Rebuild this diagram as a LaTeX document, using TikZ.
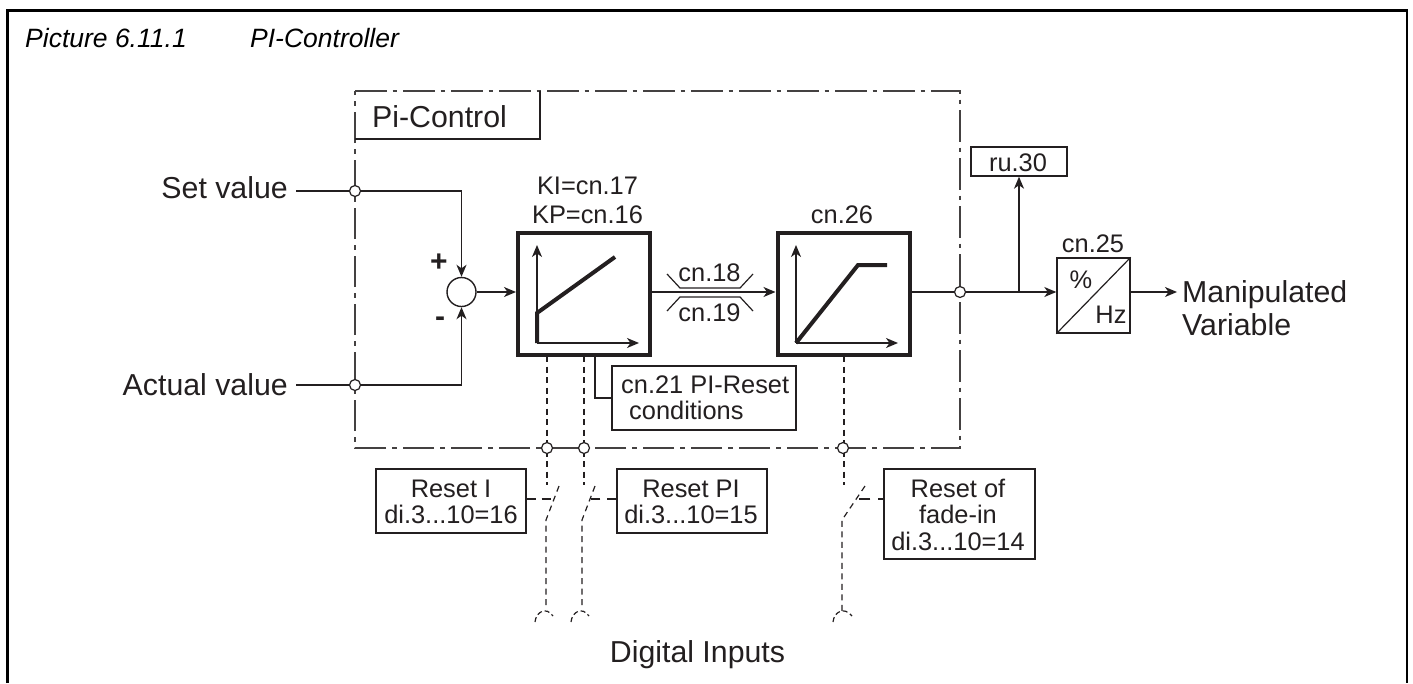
\documentclass[tikz,border=0pt]{standalone}
\usepackage{fontspec}
\setmainfont{Liberation Sans}
\usetikzlibrary{arrows.meta,calc}
\definecolor{ink}{HTML}{231F20}
\newcommand{\fbig}{\fontsize{30.3}{33}\selectfont}
\newcommand{\fmid}{\fontsize{25.4}{26.5}\selectfont}
\tikzset{
  ln/.style={draw=ink,line width=1.4pt},
  arr/.style={ln,-{Stealth[length=12pt,width=10pt,inset=3.5pt]}},
  boxa/.style={draw=ink,line width=1.4pt,fill=white,inner sep=0pt,align=center,font=\fmid,text=ink},
  heavy/.style={draw=ink,line width=4pt,inner sep=0pt,minimum width=132pt,minimum height=122pt},
  thickcurve/.style={draw=ink,line width=4pt,line join=miter},
  dd/.style={draw=ink!85,line width=1.4pt,dash pattern=on 31.5pt off 6pt on 4.5pt off 6pt},
  dsh/.style={draw=ink,line width=1.2pt,dash pattern=on 6pt off 4.5pt},
  jn/.style={circle,draw=ink,line width=1.2pt,fill=white,minimum size=11pt,inner sep=0pt},
  lab/.style={text=ink,font=\fbig,inner sep=0pt},
  labm/.style={text=ink,font=\fmid,inner sep=0pt,align=center},
  ttl/.style={anchor=base west,text=black,font=\fontsize{26.5}{26.5}\selectfont\itshape,inner sep=0pt},
}
\begin{document}
\begin{tikzpicture}[x=1pt,y=-1pt]
\useasboundingbox (0,0) rectangle (1413,683);
% frame
\draw[draw=black,line width=2.6pt] (7.5,683) -- (7.5,10.5) -- (1407,10.5) -- (1407,683);
\node[ttl] (title) at (25,47) {Picture 6.11.1};
\node[ttl] (title2) at (250,47) {PI-Controller};
% control frame
\coordinate (c1) at (355,91); \coordinate (c2) at (960,91); \coordinate (c3) at (960,448); \coordinate (c4) at (355,448);
\draw[dd] (c1) -- (c2) -- (c3) -- (c4) -- cycle;
\coordinate (t1) at (355,139); \coordinate (t2) at (540,139); \coordinate (t3) at (540,91);
\draw[ln] (t1) -- (t2) -- (t3);
\node[lab,anchor=base west] (pi) at (372,127) {Pi-Control};
% inputs
\node[lab,anchor=base east] (setv) at (288,198) {Set value};
\node[lab,anchor=base east] (actv) at (288,395) {Actual value};
\node[circle,draw=ink,line width=1.4pt,fill=white,minimum size=29pt,inner sep=0pt] (sum) at (461.5,292) {};
\coordinate (setc) at (461.5,191); \coordinate (actc) at (461.5,385);
\coordinate (sets) at (296,191); \coordinate (acts) at (296,385);
\draw[arr] (sets) -- (setc) -- (sum.north);
\draw[arr] (acts) -- (actc) -- (sum.south);
\node[jn] (j1) at (355,191) {};
\node[jn] (j2) at (355,385) {};
\node[text=ink,font=\bfseries\fontsize{30}{30}\selectfont,inner sep=0pt] (plus) at (439,263) {+};
\node[text=ink,font=\bfseries\fontsize{30}{30}\selectfont,inner sep=0pt] (minus) at (440,322) {-};
% blocks
\node[heavy] (b1) at (584,294) {};
\node[heavy] (b2) at (843.5,294) {};
\node[labm,anchor=base] (ki) at (587.5,194) {KI=cn.17};
\node[labm,anchor=base] (kp) at (587.5,223) {KP=cn.16};
\node[labm,anchor=base] (c26) at (842,223) {cn.26};
\coordinate (m) at (0,292);
\draw[arr] (sum.east) -- (b1.west |- m);
\draw[arr] (b1.east |- m) -- (b2.west |- m);
% graph 1
\coordinate (o1) at (537,343); \coordinate (y1) at (537,245); \coordinate (x1) at (639,343);
\coordinate (g1a) at (537,313); \coordinate (g1b) at (615,257);
\draw[thickcurve] (o1) -- (g1a) -- (g1b);
\draw[arr] (o1) -- (y1);
\draw[arr] (o1) -- (x1);
% graph 2
\coordinate (o2) at (796,343); \coordinate (y2) at (796,245); \coordinate (x2) at (898,343);
\coordinate (g2a) at (858,265); \coordinate (g2b) at (887,265);
\draw[thickcurve] (o2) -- (g2a) -- (g2b);
\draw[arr] (o2) -- (y2);
\draw[arr] (o2) -- (x2);
% ramps
\coordinate (u1) at (667,274); \coordinate (u2) at (680,288); \coordinate (u3) at (740,288); \coordinate (u4) at (753,274);
\coordinate (l1) at (667,311); \coordinate (l2) at (680,297); \coordinate (l3) at (740,297); \coordinate (l4) at (753,311);
\draw[ln,line width=1.2pt] (u1) -- (u2) -- (u3) -- (u4);
\draw[ln,line width=1.2pt] (l1) -- (l2) -- (l3) -- (l4);
\node[labm,anchor=base] (c18) at (709.5,281) {cn.18};
\node[labm,anchor=base] (c19) at (709.5,321) {cn.19};
% output
\node[boxa,minimum width=96pt,minimum height=29pt] (ru) at (1019,161.5) {};
\node[labm,anchor=base] (rut) at (1018,171) {ru.30};
\node[boxa,minimum width=73pt,minimum height=75pt] (conv) at (1093.5,295.5) {};
\draw[ln,line width=1.2pt] (conv.south west) -- (conv.north east);
\node[labm,anchor=base] (pct) at (1081,288) {\%};
\node[labm,anchor=base] (hz) at (1111,323) {Hz};
\node[labm,anchor=base] (c25) at (1093,252) {cn.25};
\coordinate (tap) at (1019,292);
\draw[arr] (b2.east |- tap) -- (conv.west |- tap);
\draw[arr] (tap) -- (ru.south);
\coordinate (out) at (1177,292);
\draw[arr] (conv.east |- tap) -- (out);
\node[jn] (j3) at (960,292) {};
\node[lab,anchor=base west] (mv1) at (1182,302) {Manipulated};
\node[lab,anchor=base west] (mv2) at (1182,335) {Variable};
% reset condition box
\node[boxa,minimum width=184pt,minimum height=64pt] (c21) at (704,398) {};
\node[labm,anchor=base west] (c21a) at (621,393) {cn.21 PI-Reset};
\node[labm,anchor=base west] (c21b) at (629,419) {conditions};
\coordinate (rb) at (595,356); \coordinate (rc) at (595,398);
\draw[ln] (rb) -- (rc) -- (rc -| c21.west);
% reset boxes
\node[boxa,minimum width=150pt,minimum height=64pt] (ri) at (451,501) {};
\node[labm,anchor=base] (ria) at (451,497) {Reset I};
\node[labm,anchor=base] (rib) at (451,523) {di.3...10=16};
\node[boxa,minimum width=150pt,minimum height=64pt] (rp) at (692,501) {};
\node[labm,anchor=base] (rpa) at (691,497) {Reset PI};
\node[labm,anchor=base] (rpb) at (691,523) {di.3...10=15};
\node[boxa,minimum width=151pt,minimum height=90pt] (rf) at (959.5,514) {};
\node[labm,anchor=base] (rfa) at (958,497) {Reset of};
\node[labm,anchor=base] (rfb) at (958,523) {fade-in};
\node[labm,anchor=base] (rfc) at (958,550) {di.3...10=14};
% switches
\coordinate (s1t) at (547,356); \coordinate (s1b) at (547,485); \coordinate (s1p) at (559,486); \coordinate (s1q) at (546,520); \coordinate (s1e) at (546,607);
\coordinate (s2t) at (584,356); \coordinate (s2b) at (584,485); \coordinate (s2p) at (595,486); \coordinate (s2q) at (582,520); \coordinate (s2e) at (582,607);
\coordinate (s3t) at (844,356); \coordinate (s3b) at (844,485); \coordinate (s3p) at (865,486); \coordinate (s3q) at (842,520); \coordinate (s3e) at (842,611);
\draw[dsh] (s1t) -- (s1b);
\draw[dsh] (s1p) -- (s1q) -- (s1e);
\draw[dsh] (s2t) -- (s2b);
\draw[dsh] (s2p) -- (s2q) -- (s2e);
\draw[dsh] (s3t) -- (s3b);
\draw[dsh] (s3p) -- (s3q) -- (s3e);
\coordinate (a) at (0,499);
\draw[dsh,dash pattern=on 9pt off 6pt] (ri.east |- a) -- (555,499);
\draw[dsh,dash pattern=on 9pt off 7pt] (rp.west |- a) -- (591,499);
\draw[dsh,dash pattern=on 5pt off 8pt on 12pt off 0pt] (rf.west |- a) -- (859,499);
\draw[dsh,dash pattern=on 5pt off 3pt] (535,622) .. controls (536,612) and (546,606) .. (553,616);
\draw[dsh,dash pattern=on 5pt off 3pt] (571,622) .. controls (572,612) and (582,606) .. (589,616);
\draw[dsh,dash pattern=on 5pt off 3pt] (833,622) .. controls (834,612) and (844,606) .. (852,616);
\node[jn] (j4) at (547,448) {};
\node[jn] (j5) at (584,448) {};
\node[jn] (j6) at (843,448) {};
\node[lab,anchor=base] (di) at (697.5,662) {Digital Inputs};
\end{tikzpicture}
\end{document}
